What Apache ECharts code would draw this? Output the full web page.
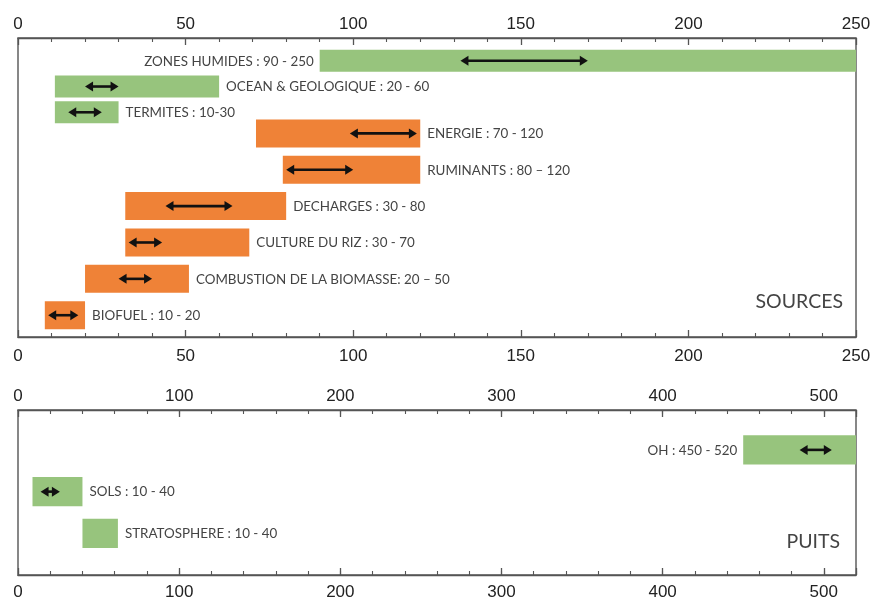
<!DOCTYPE html>
<html>
<head>
<meta charset="utf-8">
<script src="https://cdn.jsdelivr.net/npm/echarts@6/dist/echarts.min.js"></script>
<style>
html,body{margin:0;padding:0;background:#fff;}
#chart{width:878px;height:603px;}
</style>
</head>
<body>
<div id="chart"></div>
<script>
// ---- Data: sources ----
const srcCats = ['ZONES HUMIDES : 90 - 250', 'OCEAN & GEOLOGIQUE : 20 - 60', 'TERMITES : 10-30', 'ENERGIE : 70 - 120', 'RUMINANTS : 80 \u2013 120', 'DECHARGES : 30 - 80', 'CULTURE DU RIZ : 30 - 70', 'COMBUSTION DE LA BIOMASSE: 20 \u2013 50', 'BIOFUEL : 10 - 20'];
const srcLow = [90, 11, 11, 71, 79, 32, 32, 20, 8];
const srcHigh = [250, 60, 30, 120, 120, 80, 69, 51, 20];
const srcArrowLow = [132, 20, 15, 99, 80, 44, 33, 30, 9];
const srcArrowHigh = [170, 30, 25, 119, 100, 64, 43, 40, 18];
const srcGroup = ['nat', 'nat', 'nat', 'anth', 'anth', 'anth', 'anth', 'anth', 'anth'];
const srcTicks = [0, 50, 100, 150, 200, 250];
const srcMax = 250;

// ---- Data: puits ----
const sinkCats = ['OH : 450 - 520', 'SOLS : 10 - 40', 'STRATOSPHERE : 10 - 40'];
const sinkLow = [450, 9, 40];
const sinkHigh = [520, 40, 62];
const sinkArrowLow = [485, 14, null];
const sinkArrowHigh = [505, 26, null];
const sinkGroup = ['nat', 'nat', 'nat'];
const sinkTicks = [0, 100, 200, 300, 400, 500];
const sinkMax = 520;

const COLORS = { nat: '#97c47d', anth: '#ef8237' };
const LABEL_FONT = 'Lato';
const AXIS_FONT = 'Liberation Sans';
const LABEL_SIZE = 13.4;

function barItem(cats, axisMax, bandFrac) {
  return function (params, api) {
    const lo = api.value(0), hi = api.value(1), idx = api.value(2);
    const p0 = api.coord([lo, idx]);
    const p1 = api.coord([hi, idx]);
    const band = api.size([0, 1])[1];
    const h = band * bandFrac;
    const leftLabel = hi >= axisMax;
    return {
      type: 'group',
      children: [
        { type: 'rect', shape: { x: p0[0], y: p0[1] - h / 2, width: p1[0] - p0[0], height: h },
          style: { fill: api.value(3) } },
        { type: 'text', x: leftLabel ? p0[0] - 6 : p1[0] + 7, y: p0[1] + 0.5,
          style: { text: cats[idx], fill: '#444', fontFamily: LABEL_FONT, fontSize: LABEL_SIZE,
                   align: leftLabel ? 'right' : 'left', verticalAlign: 'middle' } }
      ]
    };
  };
}

function arrowItem(params, api) {
  const lo = api.value(0), hi = api.value(1), idx = api.value(2);
  const a = api.coord([lo, idx]);
  const b = api.coord([hi, idx]);
  const y = a[1];
  const hl = 8, hw = 5;
  return {
    type: 'group',
    children: [
      { type: 'line', shape: { x1: a[0] + hl - 1, y1: y, x2: b[0] - hl + 1, y2: y },
        style: { stroke: '#111', lineWidth: 2.6 } },
      { type: 'polygon', shape: { points: [[a[0], y], [a[0] + hl, y - hw], [a[0] + hl, y + hw]] },
        style: { fill: '#111' } },
      { type: 'polygon', shape: { points: [[b[0], y], [b[0] - hl, y - hw], [b[0] - hl, y + hw]] },
        style: { fill: '#111' } }
    ]
  };
}

const LINE = { color: '#555', width: 1.4 };

function majorAxis(gridIndex, position, max, interval, ticks, margin, minorSplit) {
  return {
    type: 'value', gridIndex: gridIndex, position: position, min: 0, max: max, interval: interval,
    axisLine: { show: true, lineStyle: LINE },
    axisTick: { show: true, inside: true, length: 7, lineStyle: { color: '#555', width: 1.3 } },
    minorTick: { show: !!minorSplit, splitNumber: minorSplit || 5, length: 4, lineStyle: { color: '#555', width: 1.1 } },
    splitLine: { show: false },
    axisLabel: {
      show: true, margin: margin, fontSize: 17, color: '#222', fontFamily: AXIS_FONT,
      showMaxLabel: true,
      formatter: function (v) { return ticks.indexOf(v) >= 0 ? String(v) : ''; }
    }
  };
}

function minorAxis(gridIndex, position, max, interval) {
  return {
    type: 'value', gridIndex: gridIndex, position: position, min: 0, max: max, interval: interval,
    axisLine: { show: false },
    axisTick: { show: true, inside: true, length: 4, lineStyle: { color: '#555', width: 1.1 } },
    axisLabel: { show: false },
    splitLine: { show: false }
  };
}

function hiddenX(gridIndex, max) {
  return { type: 'value', gridIndex: gridIndex, min: 0, max: max, show: false, splitLine: { show: false } };
}

const chart = echarts.init(document.getElementById('chart'), null, { renderer: 'canvas' });

// split the sources into the natural (green) and anthropic (orange) blocks
function subset(group) {
  const idx = srcCats.map((c, i) => i).filter(i => srcGroup[i] === group);
  return {
    cats: idx.map(i => srcCats[i]),
    bars: idx.map((i, k) => [srcLow[i], srcHigh[i], k, COLORS[srcGroup[i]]]),
    arrows: idx.map((i, k) => [srcArrowLow[i], srcArrowHigh[i], k])
  };
}
const nat = subset('nat');
const anth = subset('anth');
const sinkBars = sinkCats.map((c, i) => [sinkLow[i], sinkHigh[i], i, COLORS[sinkGroup[i]]]);
const sinkArrows = sinkCats.map((c, i) => [sinkArrowLow[i], sinkArrowHigh[i], i])
  .filter(d => d[0] != null);

chart.setOption({
  animation: false,
  backgroundColor: '#ffffff',
  grid: [
    { left: 18, right: 22, top: 38, height: 299, show: true, borderColor: '#555', borderWidth: 1.4, backgroundColor: 'transparent' },
    { left: 18, right: 22, top: 47.9, height: 77.25 },
    { left: 18, right: 22, top: 115.2, height: 218.2 },
    { left: 18, right: 22, top: 410, height: 165, show: true, borderColor: '#555', borderWidth: 1.4, backgroundColor: 'transparent' },
    { left: 18, right: 22, top: 429, height: 125.25 }
  ],
  xAxis: [
    majorAxis(0, 'bottom', srcMax, 50, srcTicks, 11, 5),   // 0
    majorAxis(0, 'top', srcMax, 50, srcTicks, 5, 5),       // 1
    hiddenX(1, srcMax),                                     // 2
    hiddenX(2, srcMax),                                     // 3
    majorAxis(3, 'bottom', sinkMax, 100, sinkTicks, 9, 0),  // 4
    majorAxis(3, 'top', sinkMax, 100, sinkTicks, 5, 0),     // 5
    minorAxis(3, 'bottom', sinkMax, 20),                    // 6
    minorAxis(3, 'top', sinkMax, 20),                       // 7
    hiddenX(4, sinkMax)                                     // 8
  ],
  yAxis: [
    { type: 'value', gridIndex: 0, show: false, min: 0, max: 1, splitLine: { show: false } },
    { type: 'category', gridIndex: 1, data: nat.cats, inverse: true, show: false },
    { type: 'category', gridIndex: 2, data: anth.cats, inverse: true, show: false },
    { type: 'value', gridIndex: 3, show: false, min: 0, max: 1, splitLine: { show: false } },
    { type: 'category', gridIndex: 4, data: sinkCats, inverse: true, show: false }
  ],
  series: [
    { type: 'custom', xAxisIndex: 2, yAxisIndex: 1, renderItem: barItem(nat.cats, srcMax, 0.86),
      encode: { x: [0, 1], y: 2 }, data: nat.bars, clip: false, silent: true },
    { type: 'custom', xAxisIndex: 2, yAxisIndex: 1, renderItem: arrowItem,
      encode: { x: [0, 1], y: 2 }, data: nat.arrows, clip: false, silent: true, z: 5 },
    { type: 'custom', xAxisIndex: 3, yAxisIndex: 2, renderItem: barItem(anth.cats, srcMax, 0.77),
      encode: { x: [0, 1], y: 2 }, data: anth.bars, clip: false, silent: true },
    { type: 'custom', xAxisIndex: 3, yAxisIndex: 2, renderItem: arrowItem,
      encode: { x: [0, 1], y: 2 }, data: anth.arrows, clip: false, silent: true, z: 5 },
    { type: 'custom', xAxisIndex: 8, yAxisIndex: 4, renderItem: barItem(sinkCats, sinkMax, 0.7),
      encode: { x: [0, 1], y: 2 }, data: sinkBars, clip: false, silent: true },
    { type: 'custom', xAxisIndex: 8, yAxisIndex: 4, renderItem: arrowItem,
      encode: { x: [0, 1], y: 2 }, data: sinkArrows, clip: false, silent: true, z: 5 }
  ],
  graphic: [
    { type: 'text', x: 843, y: 302, style: { text: 'SOURCES', fill: '#444', fontFamily: LABEL_FONT, fontSize: 19.5, align: 'right', verticalAlign: 'middle' } },
    { type: 'text', x: 840, y: 542, style: { text: 'PUITS', fill: '#444', fontFamily: LABEL_FONT, fontSize: 19.5, align: 'right', verticalAlign: 'middle' } }
  ]
});
</script>
</body>
</html>
